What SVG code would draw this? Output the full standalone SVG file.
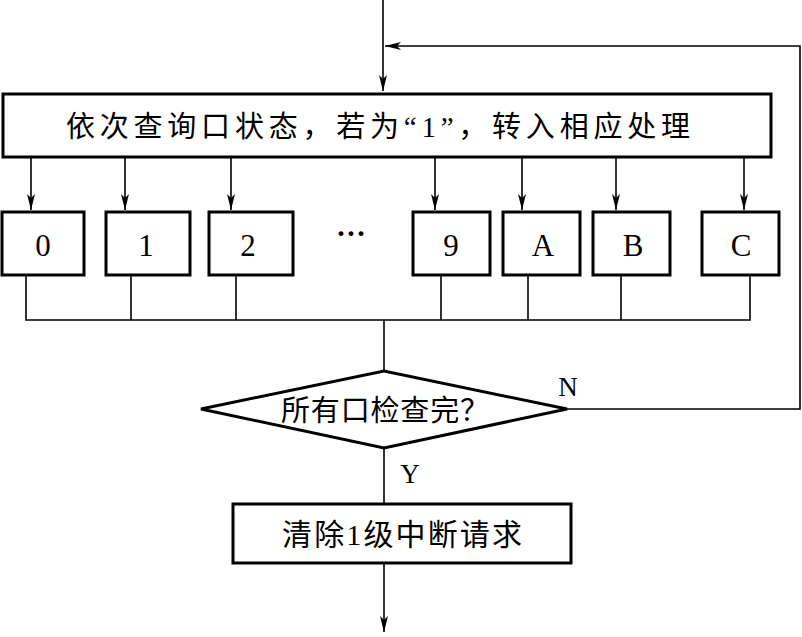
<svg xmlns="http://www.w3.org/2000/svg" width="802" height="637" viewBox="0 0 802 637">
<defs>
<style>
.box{fill:#fff;stroke:#000;stroke-width:3}
.ln{fill:none;stroke:#000;stroke-width:1.6}
.t{font-family:"Liberation Serif","Noto Sans CJK SC",serif;fill:#000;text-anchor:middle;dominant-baseline:central}
.lb{font-size:31px}
</style>
<marker id="ah" viewBox="0 0 16 8" refX="16" refY="4" markerWidth="16" markerHeight="8" markerUnits="userSpaceOnUse" orient="auto">
<path d="M0,0 L16,4 L0,8 L4,4 Z" fill="#000"/>
</marker>
</defs>
<rect width="802" height="637" fill="#fff"/>
<g id="connectors">
<line class="ln" x1="383" y1="0" x2="383" y2="91" marker-end="url(#ah)"/>
<polyline class="ln" points="567,409 800,409 800,46 385,46" marker-end="url(#ah)"/>
<line class="ln" x1="31" y1="157" x2="31" y2="210" marker-end="url(#ah)"/>
<line class="ln" x1="125" y1="157" x2="125" y2="210" marker-end="url(#ah)"/>
<line class="ln" x1="231" y1="157" x2="231" y2="210" marker-end="url(#ah)"/>
<line class="ln" x1="435" y1="157" x2="435" y2="210" marker-end="url(#ah)"/>
<line class="ln" x1="522" y1="157" x2="522" y2="210" marker-end="url(#ah)"/>
<line class="ln" x1="616" y1="157" x2="616" y2="210" marker-end="url(#ah)"/>
<line class="ln" x1="744" y1="157" x2="744" y2="210" marker-end="url(#ah)"/>
<polyline class="ln" points="26,275 26,320 750,320 750,275"/>
<line class="ln" x1="131" y1="275" x2="131" y2="320"/>
<line class="ln" x1="236" y1="275" x2="236" y2="320"/>
<line class="ln" x1="441" y1="275" x2="441" y2="320"/>
<line class="ln" x1="528" y1="275" x2="528" y2="320"/>
<line class="ln" x1="621" y1="275" x2="621" y2="320"/>
<line class="ln" x1="384" y1="320" x2="384" y2="371"/>
<line class="ln" x1="384" y1="448" x2="384" y2="503"/>
<line class="ln" x1="384" y1="563" x2="384" y2="632" marker-end="url(#ah)"/>
<text class="t" x="568" y="387" font-size="27">N</text>
<text class="t" x="410" y="474" font-size="27">Y</text>
</g>
<g id="scan">
<rect class="box" x="3" y="94" width="768" height="63"/>
<text class="t" x="378" y="127" font-size="29" textLength="624" lengthAdjust="spacing">依次查询口状态，若为“1”，转入相应处理</text>
</g>
<g id="p0"><rect class="box" x="2" y="212" width="82" height="63"/><text class="t lb" x="43" y="245">0</text></g>
<g id="p1"><rect class="box" x="106" y="212" width="84" height="63"/><text class="t lb" x="146" y="245">1</text></g>
<g id="p2"><rect class="box" x="209" y="212" width="84" height="63"/><text class="t lb" x="248" y="245">2</text></g>
<g id="dots"><text class="t" x="351" y="232" font-size="30" font-weight="bold">···</text></g>
<g id="p9"><rect class="box" x="413" y="212" width="77" height="63"/><text class="t lb" x="451" y="245">9</text></g>
<g id="pA"><rect class="box" x="503" y="212" width="77" height="63"/><text class="t lb" x="543" y="245">A</text></g>
<g id="pB"><rect class="box" x="593" y="212" width="77" height="63"/><text class="t lb" x="633" y="245">B</text></g>
<g id="pC"><rect class="box" x="702" y="212" width="77" height="63"/><text class="t lb" x="741" y="245">C</text></g>
<g id="check">
<polygon class="box" points="201,409 384,371 567,409 384,448"/>
<text class="t" x="385" y="411" font-size="29" textLength="208" lengthAdjust="spacing">所有口检查完？</text>
</g>
<g id="clear">
<rect class="box" x="233" y="504" width="338" height="59"/>
<text class="t" x="402" y="534" font-size="30" textLength="240" lengthAdjust="spacing">清除1级中断请求</text>
</g>
</svg>
